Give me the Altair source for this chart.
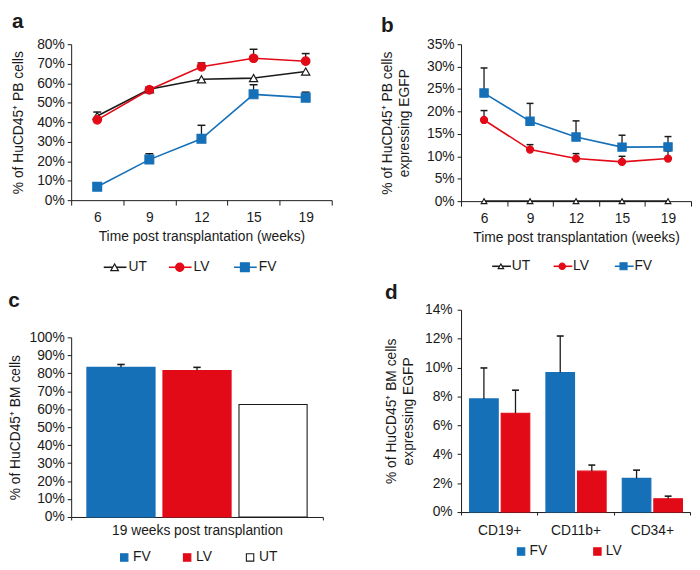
import altair as alt
import pandas as pd

BLUE = "#1570b8"
RED = "#e30a17"
BLACK = "#1a1a1a"
FONT = "Liberation Sans"

# ---------------- data ----------------
weeks = ["6", "9", "12", "15", "19"]
line_series = ["UT", "LV", "FV"]

a_ut = [43.2, 56.9, 62.0, 62.6, 66.0]
a_ut_err = [2.0, 1.2, 0.0, 0.0, 0.0]
a_lv = [41.2, 56.6, 68.4, 72.8, 71.3]
a_lv_err = [0.6, 0.0, 2.0, 4.6, 3.9]
a_fv = [6.9, 20.8, 31.5, 54.3, 52.6]
a_fv_err = [0.0, 3.0, 6.9, 4.9, 2.8]

b_ut = [0.0, 0.0, 0.0, 0.0, 0.0]
b_ut_err = [0.0, 0.0, 0.0, 0.0, 0.0]
b_lv = [18.1, 11.5, 9.5, 8.75, 9.5]
b_lv_err = [2.1, 1.1, 1.1, 1.25, 1.7]
b_fv = [24.1, 17.8, 14.3, 12.05, 12.1]
b_fv_err = [5.6, 4.0, 3.6, 2.65, 2.3]

c_group = ["19 weeks post transplantion"]
c_series = ["FV", "LV", "UT"]
c_values = [83.3, 81.5, 62.6]
c_err = [1.6, 1.8, 0.0]

d_cells = ["CD19+", "CD11b+", "CD34+"]
d_series = ["FV", "LV"]
d_fv = [7.83, 9.65, 2.33]
d_fv_err = [2.14, 2.53, 0.57]
d_lv = [6.84, 2.83, 0.92]
d_lv_err = [1.59, 0.42, 0.18]


def line_frame(vals, errs):
    rows = []
    for s in line_series:
        for w, v, e in zip(weeks, vals[s], errs[s]):
            rows.append({"week": w, "series": s, "value": v, "top": v + e})
    return pd.DataFrame(rows)


df_a = line_frame({"UT": a_ut, "LV": a_lv, "FV": a_fv},
                  {"UT": a_ut_err, "LV": a_lv_err, "FV": a_fv_err})
df_b = line_frame({"UT": b_ut, "LV": b_lv, "FV": b_fv},
                  {"UT": b_ut_err, "LV": b_lv_err, "FV": b_fv_err})

df_c = pd.DataFrame({
    "group": c_group * len(c_series),
    "series": c_series,
    "value": c_values,
    "top": [v + e for v, e in zip(c_values, c_err)],
})

rows = []
for s, vals, errs in (("FV", d_fv, d_fv_err), ("LV", d_lv, d_lv_err)):
    for cell, v, e in zip(d_cells, vals, errs):
        rows.append({"cell": cell, "series": s, "value": v, "top": v + e})
df_d = pd.DataFrame(rows)

# ---------------- scales ----------------
stroke_scale = alt.Scale(domain=line_series, range=[BLACK, RED, BLUE])
fill_scale = alt.Scale(domain=line_series, range=["white", RED, BLUE])
shape_scale = alt.Scale(domain=line_series, range=["triangle-up", "circle", "square"])
bar_fill = alt.Scale(domain=["FV", "LV", "UT"], range=[BLUE, RED, "white"])
bar_stroke = alt.Scale(domain=["FV", "LV", "UT"], range=["#2a2a2a", "#2a2a2a", "#555555"])


def y_enc(field, ymax, ystep, ytitle, ytitle_pad, label_pad=3, tick=4):
    return alt.Y(f"{field}:Q", scale=alt.Scale(domain=[0, ymax], nice=False, zero=True),
                 axis=alt.Axis(values=list(range(0, ymax + 1, ystep)), labelOverlap=False,
                               labelExpr="datum.value + '%'", title=ytitle, tickSize=tick,
                               labelPadding=label_pad, titlePadding=ytitle_pad,
                               titleLineHeight=17))


def line_panel(df, letter, ymax, ystep, width, height, ytitle, sizes, leg_sizes,
               title_offset, ytitle_pad, leg_pad, leg_mk, leg_seg, leg_seglen, leg_txt, leg_y,
               cap_size, label_pad, x_title_pad):
    size_scale = alt.Scale(domain=line_series, range=sizes)
    x = alt.X("week:N", sort=weeks, scale=alt.Scale(paddingInner=0, paddingOuter=0),
              axis=alt.Axis(title="Time post transplantation (weeks)", tickBand="extent",
                            labelAngle=0, tickSize=5, labelPadding=label_pad,
                            titlePadding=x_title_pad))
    y = y_enc("value", ymax, ystep, ytitle, ytitle_pad)
    ytop = y_enc("top", ymax, ystep, ytitle, ytitle_pad)
    base = alt.Chart(df)
    errs = base.transform_filter("datum.top > datum.value")
    err = errs.mark_rule(color=BLACK, strokeWidth=1.3).encode(x=x, y=y, y2="top:Q")
    cap = errs.mark_point(shape="stroke", size=cap_size, color=BLACK, strokeWidth=1.5,
                          opacity=1).encode(x=x, y=ytop)
    line = base.mark_line(strokeWidth=1.6).encode(
        x=x, y=y, stroke=alt.Stroke("series:N", scale=stroke_scale, legend=None))
    pts = base.mark_point(opacity=1, strokeWidth=1.2).encode(
        x=x, y=y,
        stroke=alt.Stroke("series:N", scale=stroke_scale, legend=None),
        fill=alt.Fill("series:N", scale=fill_scale, legend=None),
        shape=alt.Shape("series:N", scale=shape_scale, legend=None),
        size=alt.Size("series:N", scale=size_scale, legend=None),
    )
    main = alt.layer(err, cap, line, pts)

    leg_df = pd.DataFrame({"series": line_series})
    lx = alt.X("series:N", sort=line_series,
               scale=alt.Scale(type="point", domain=line_series, padding=leg_pad),
               axis=None)
    ly = alt.value(leg_y)
    leg_base = alt.Chart(leg_df)
    seg = leg_base.mark_point(shape="stroke", size=leg_seglen ** 2, strokeWidth=1.6,
                              opacity=1, xOffset=leg_seg).encode(
        x=lx, y=ly, stroke=alt.Stroke("series:N", scale=stroke_scale, legend=None))
    mk = leg_base.mark_point(opacity=1, strokeWidth=1.2, xOffset=leg_mk).encode(
        x=lx, y=ly,
        stroke=alt.Stroke("series:N", scale=stroke_scale, legend=None),
        fill=alt.Fill("series:N", scale=fill_scale, legend=None),
        shape=alt.Shape("series:N", scale=shape_scale, legend=None),
        size=alt.Size("series:N", scale=alt.Scale(domain=line_series, range=leg_sizes),
                      legend=None),
    )
    txt = leg_base.mark_text(align="left", baseline="middle", dx=leg_txt, fontSize=14,
                             font=FONT, color=BLACK).encode(x=lx, y=ly, text="series:N")
    legend = alt.layer(seg, mk, txt)

    return alt.layer(main, legend).resolve_scale(
        x="independent", size="independent"
    ).properties(
        width=width, height=height,
        title=alt.TitleParams(letter, offset=title_offset),
    )


def bar_legend(series, leg_pad, leg_mk, leg_txt, leg_y):
    leg_df = pd.DataFrame({"series": series})
    lx = alt.X("series:N", sort=series,
               scale=alt.Scale(type="point", domain=series, padding=leg_pad),
               axis=None)
    ly = alt.value(leg_y)
    lb = alt.Chart(leg_df)
    mk = lb.mark_point(shape="square", size=56, opacity=1, strokeWidth=1.1,
                       xOffset=leg_mk).encode(
        x=lx, y=ly,
        fill=alt.Fill("series:N", scale=bar_fill, legend=None),
        stroke=alt.Stroke("series:N", scale=bar_stroke, legend=None),
    )
    txt = lb.mark_text(align="left", baseline="middle", dx=leg_txt, fontSize=14,
                       font=FONT, color=BLACK).encode(x=lx, y=ly, text="series:N")
    return alt.layer(mk, txt)


# ---------------- panel c (grouped bars within one category) ----------------
def panel_c_chart(width, height, title_offset, ytitle_pad, leg_y):
    x = alt.X("group:N", sort=c_group, scale=alt.Scale(paddingInner=0, paddingOuter=0),
              axis=alt.Axis(title=None, tickBand="extent", labelAngle=0, tickSize=3,
                            labelPadding=4))
    xo = alt.XOffset("series:N", sort=c_series,
                     scale=alt.Scale(domain=c_series, paddingInner=0.104, paddingOuter=0.207))
    y = y_enc("value", 100, 10, "% of HuCD45⁺ BM cells", ytitle_pad)
    ytop = y_enc("top", 100, 10, "% of HuCD45⁺ BM cells", ytitle_pad)
    base = alt.Chart(df_c)
    bars = base.mark_bar(strokeWidth=1.1).encode(
        x=x, xOffset=xo, y=y,
        fill=alt.Fill("series:N", scale=bar_fill, legend=None),
        stroke=alt.Stroke("series:N", scale=bar_stroke, legend=None),
    )
    errs = base.transform_filter("datum.top > datum.value")
    err = errs.mark_rule(color=BLACK, strokeWidth=1.3).encode(
        x=x, xOffset=xo, y=y, y2="top:Q")
    cap = errs.mark_point(shape="stroke", size=56, color=BLACK, strokeWidth=1.6,
                          opacity=1).encode(x=x, xOffset=xo, y=ytop)
    main = alt.layer(bars, err, cap)
    legend = bar_legend(c_series, 1.63, -10, -1, leg_y)
    return alt.layer(main, legend).resolve_scale(x="independent").properties(
        width=width, height=height, title=alt.TitleParams("c", offset=title_offset))


# ---------------- panel d (two bars per cell type) ----------------
def panel_d_chart(width, height, title_offset, ytitle_pad, leg_y):
    x = alt.X("cell:N", sort=d_cells, scale=alt.Scale(paddingInner=0, paddingOuter=0),
              axis=alt.Axis(title=None, tickBand="extent", labelAngle=0, tickSize=3,
                            labelPadding=9))
    ytitle = ["% of HuCD45⁺ BM cells", "expressing EGFP"]
    y = y_enc("value", 14, 2, ytitle, ytitle_pad, label_pad=5)
    ytop = y_enc("top", 14, 2, ytitle, ytitle_pad, label_pad=5)
    layers = []
    for s, off in (("FV", -15.5), ("LV", 16.5)):
        sub = alt.Chart(df_d).transform_filter(f"datum.series == '{s}'")
        layers.append(sub.mark_bar(strokeWidth=1.1, width=29, xOffset=off).encode(
            x=x, y=y,
            fill=alt.Fill("series:N", scale=bar_fill, legend=None),
            stroke=alt.Stroke("series:N", scale=bar_stroke, legend=None),
        ))
        layers.append(sub.mark_rule(color=BLACK, strokeWidth=1.3, xOffset=off).encode(
            x=x, y=y, y2="top:Q"))
        layers.append(sub.mark_point(shape="stroke", size=49, color=BLACK, strokeWidth=1.6,
                                     opacity=1, xOffset=off).encode(x=x, y=ytop))
    main = alt.layer(*layers)
    legend = bar_legend(d_series, 1.95, -16.5, -8, leg_y)
    return alt.layer(main, legend).resolve_scale(x="independent").properties(
        width=width, height=height, title=alt.TitleParams("d", offset=title_offset))


panel_a = line_panel(df_a, "a", 80, 10, 264, 158, "% of HuCD45⁺ PB cells",
                     [70, 80, 110], [60, 80, 64],
                     title_offset=5, ytitle_pad=11, leg_pad=1.0, leg_mk=-22,
                     leg_seg=-21.5, leg_seglen=23, leg_txt=-8, leg_y=226,
                     cap_size=64, label_pad=6, x_title_pad=5)

panel_b = line_panel(df_b, "b", 35, 5, 233, 159,
                     ["% of HuCD45⁺ PB cells", "expressing EGFP"],
                     [32, 70, 50], [30, 50, 30],
                     title_offset=1, ytitle_pad=15, leg_pad=0.875, leg_mk=-14,
                     leg_seg=-13.3, leg_seglen=19, leg_txt=-3, leg_y=225,
                     cap_size=49, label_pad=6, x_title_pad=5)

panel_c = panel_c_chart(255, 182, 20, 7, 223)
panel_d = panel_d_chart(232, 205, 0, 9, 245)

left_col = alt.vconcat(panel_a, panel_c, spacing=16)
right_col = alt.vconcat(panel_b, panel_d, spacing=9)

chart = alt.hconcat(left_col, right_col, spacing=48).properties(
    padding=0
).configure_view(
    stroke=None
).configure_axis(
    labelFont=FONT, titleFont=FONT, labelFontSize=14, titleFontSize=14,
    labelColor=BLACK, titleColor=BLACK, domainColor=BLACK, tickColor=BLACK,
    grid=False, titleFontWeight="normal", domainWidth=1, tickWidth=1,
).configure_title(
    font=FONT, fontSize=21, fontWeight="bold", anchor="start", color=BLACK,
)

chart.save("out.html", embed_options={"renderer": "svg", "actions": False})
